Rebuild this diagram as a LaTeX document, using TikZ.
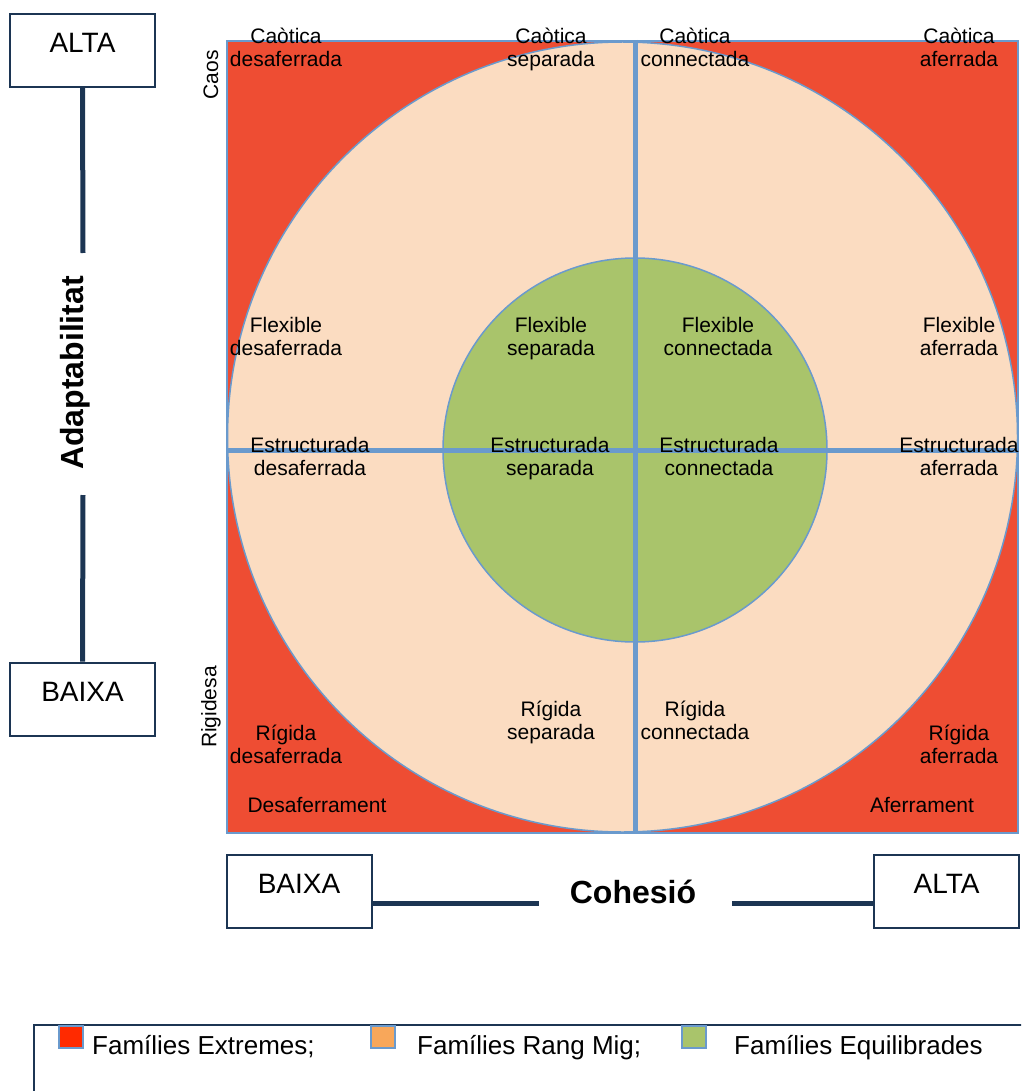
\documentclass[tikz,border=0pt]{standalone}
\usepackage{fontspec}
\setmainfont{Liberation Sans}
\usepackage{tikz}

\definecolor{extrem}{HTML}{EE4D33}
\definecolor{rangmig}{HTML}{FBDCC1}
\definecolor{equil}{HTML}{A9C46B}
\definecolor{lineblue}{HTML}{6A9ACD}
\definecolor{navy}{HTML}{1C3553}
\definecolor{keyred}{HTML}{FF2A00}
\definecolor{keyorange}{HTML}{F8A75A}

\begin{document}
\begin{tikzpicture}
[
  x=1pt, y=-1pt,
  lbl/.style={align=center, inner sep=0pt, anchor=base, font=\fontsize{21}{23}\selectfont},
  side/.style={inner sep=0pt, rotate=90, font=\fontsize{21}{23}\selectfont},
  axbox/.style={draw=navy, line width=2pt, fill=white, inner sep=0pt, minimum width=145pt,
    text height=38.5pt, text depth=34.5pt, font=\fontsize{28}{32}\selectfont},
  axline/.style={navy, line width=5pt},
  axname/.style={inner sep=0pt, anchor=base, font=\bfseries\fontsize{32}{36}\selectfont},
  cross/.style={lineblue, line width=5pt},
  key/.style={draw=lineblue, line width=1.5pt, inner sep=0pt, minimum width=24pt, minimum height=22pt},
  keytxt/.style={anchor=base west, inner sep=0pt, font=\fontsize{26}{30}\selectfont}
]
\clip (0,0) rectangle (1021,1091);

% grid with the circles
\node[draw=lineblue, line width=2pt, fill=extrem, inner sep=0pt,
  minimum width=791pt, minimum height=792pt] (grid) at (622.5,437) {};
\node[circle, draw=lineblue, line width=1.5pt, fill=rangmig, inner sep=0pt,
  minimum size=790pt] (outer) at (622.5,437) {};
\node[circle, draw=lineblue, line width=1.5pt, fill=equil, inner sep=0pt,
  minimum size=384pt] (inner) at (635,450) {};

\draw[cross] (grid.north -| inner) -- (grid.south -| inner);
\draw[cross] (grid.west |- inner) -- (grid.east |- inner);

% types (base = second line)
\node[lbl] (cd) at (286,67) {Caòtica\\desaferrada};
\node[lbl] (cs) at (551,67) {Caòtica\\separada};
\node[lbl] (cc) at (695,67) {Caòtica\\connectada};
\node[lbl] (ca) at (959,67) {Caòtica\\aferrada};

\node[lbl] (fd) at (286,355) {Flexible\\desaferrada};
\node[lbl] (fs) at (551,355) {Flexible\\separada};
\node[lbl] (fc) at (718,355) {Flexible\\connectada};
\node[lbl] (fa) at (959,355) {Flexible\\aferrada};

\node[lbl] (ed) at (310,475) {Estructurada\\desaferrada};
\node[lbl] (es) at (550,475) {Estructurada\\separada};
\node[lbl] (ec) at (719,475) {Estructurada\\connectada};
\node[lbl] (ea) at (959,475) {Estructurada\\aferrada};

\node[lbl] (rd) at (286,763) {Rígida\\desaferrada};
\node[lbl] (rs) at (551,739) {Rígida\\separada};
\node[lbl] (rc) at (695,739) {Rígida\\connectada};
\node[lbl] (ra) at (959,763) {Rígida\\aferrada};

\node[lbl] (desaf) at (317,812) {Desaferrament};
\node[lbl] (aferr) at (922,812) {Aferrament};

\node[side] (caos) at (211,75) {Caos};
\node[side] (rigid) at (211,707) {Rigidesa};

% adaptabilitat axis
\node[axbox] (altaL) at (82.5,50.5) {ALTA};
\node[axbox] (baixaL) at (82.5,699) {BAIXA};
\node[axname, rotate=90] (adapt) at (83,373) {Adaptabilitat};
\coordinate (adtop) at (83,253);
\coordinate (adbot) at (83,495);
\draw[axline] (altaL.south) -- (adtop);
\draw[axline] (adbot) -- (baixaL.north);

% cohesio axis
\node[axbox] (baixaB) at (299,891) {BAIXA};
\node[axbox] (altaB) at (946.5,891) {ALTA};
\node[axname] (cohes) at (633,903) {Cohesió};
\coordinate (cohl) at (539,903);
\coordinate (cohr) at (732,903);
\draw[axline] (baixaB.east |- cohl) -- (cohl);
\draw[axline] (cohr) -- (altaB.west |- cohr);

% legend
\draw[navy, line width=2pt] (34,1025) rectangle (1040,1110);
\node[key, fill=keyred] (kext) at (71,1037) {};
\node[key, fill=keyorange] (kmig) at (383,1037) {};
\node[key, fill=equil] (kequ) at (694,1037) {};
\node[keytxt] (text) at (92,1054) {Famílies Extremes;};
\node[keytxt] (tmig) at (417,1054) {Famílies Rang Mig;};
\node[keytxt] (tequ) at (734,1054) {Famílies Equilibrades};

\end{tikzpicture}
\end{document}
